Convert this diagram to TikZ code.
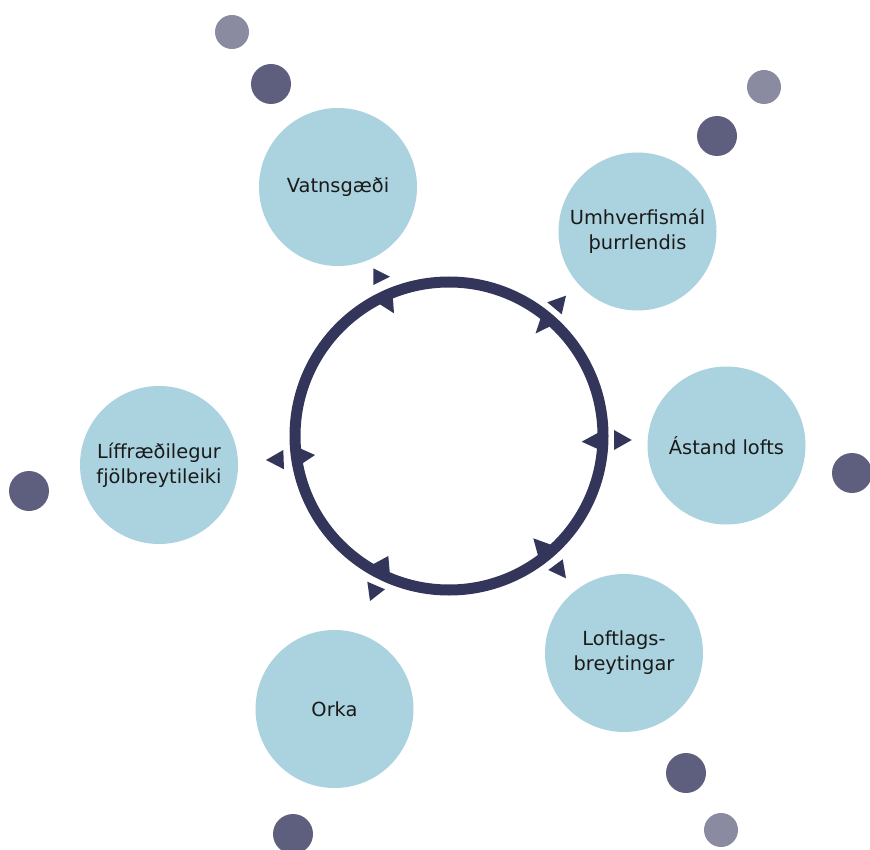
\documentclass[tikz,border=0pt]{standalone}
\usepackage{fontspec}
\setmainfont{DejaVu Sans}
\usepackage{tikz}
\definecolor{ring}{HTML}{33355A}
\definecolor{bubble}{HTML}{ABD3DF}
\definecolor{darkdot}{HTML}{5E5F7E}
\definecolor{lightdot}{HTML}{8A8BA1}
\definecolor{ink}{HTML}{1A1A1A}
\tikzset{
  topic/.style={circle, fill=bubble, minimum size=158pt, inner sep=0pt,
    align=center, text=ink, font=\fontsize{19.4}{25}\selectfont},
  tip/.style={fill=ring}
}

\begin{document}
\begin{tikzpicture}[x=1pt, y=-1pt]
\useasboundingbox (0,0) rectangle (870,850);
%\draw [very thin, gray] (0,0) grid[step=50] (870,850);
\draw [ring, line width=11pt] (449,436) circle (154);
% topics
\node[topic] (vatn) at (338,187) {Vatnsgæði};
\node[topic] (land) at (637.5,231.5) {Umhverfismál\\þurrlendis};
\node[topic] (loft) at (726.5,445.5) {Ástand lofts};
\node[topic] (lofts) at (624,653) {Loftlags-\\breytingar};
\node[topic] (orka) at (334.5,709) {Orka};
\node[topic] (lif) at (159,465) {Líffræðilegur\\fjölbreytileiki};
% arrow heads
\fill [tip] (373.3,268.3) -- (390,276.7) -- (373.3,285) -- cycle;
\fill [tip] (378.3,303.3) -- (392.5,293.3) -- (394,313.3) -- cycle;
\fill [tip] (547.3,302.3) -- (566,295.7) -- (561.7,314.3) -- cycle;
\fill [tip] (535.5,333.5) -- (542,314) -- (557,323) -- cycle;
\fill [tip] (581.7,441.7) -- (600,431.7) -- (600,450) -- cycle;
\fill [tip] (614,430) -- (631.7,440) -- (614,450) -- cycle;
\fill [tip] (533.3,538.3) -- (551.7,545) -- (538.3,556.7) -- cycle;
\fill [tip] (548.3,570) -- (562.7,559.3) -- (566,578.3) -- cycle;
\fill [tip] (371.7,565) -- (388.3,556) -- (390,575) -- cycle;
\fill [tip] (367.3,581.7) -- (385,589.3) -- (370,601) -- cycle;
\fill [tip] (300,448.3) -- (315,455) -- (300,465) -- cycle;
\fill [tip] (266,460) -- (283.3,450) -- (284,469.3) -- cycle;
% dots
\fill [lightdot] (232,32) circle (17);
\fill [darkdot] (271,84) circle (20);
\fill [lightdot] (764,87) circle (17);
\fill [darkdot] (717,136) circle (20);
\fill [darkdot] (852,473) circle (20);
\fill [darkdot] (29,491) circle (20);
\fill [darkdot] (686,773) circle (20);
\fill [lightdot] (721,830) circle (17);
\fill [darkdot] (293,834) circle (20);
\end{tikzpicture}
\end{document}
